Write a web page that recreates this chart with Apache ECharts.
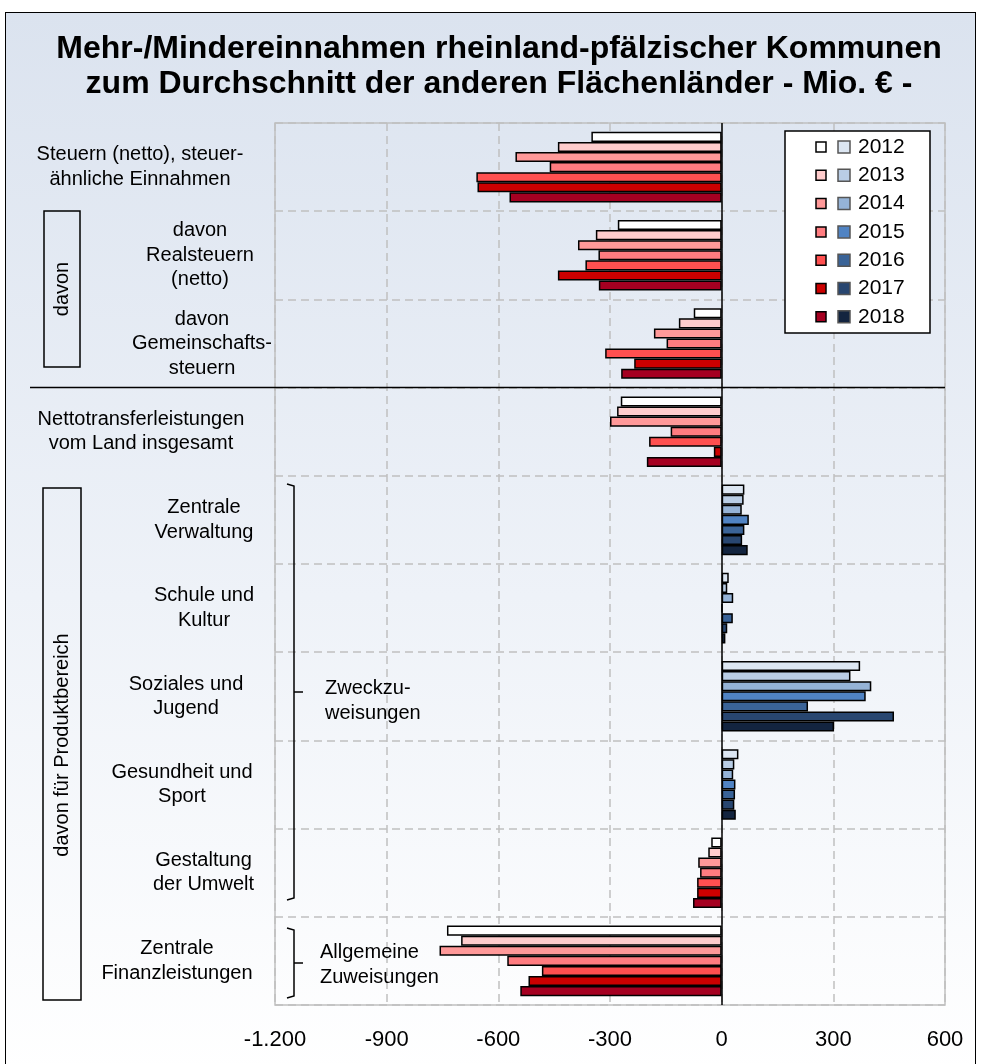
<!DOCTYPE html>
<html>
<head>
<meta charset="utf-8">
<script src="https://cdn.jsdelivr.net/npm/echarts@6/dist/echarts.min.js"></script>
<style>
html, body { margin: 0; padding: 0; width: 981px; height: 1064px; overflow: hidden; background: #fff; }
#frame { position: absolute; left: 5px; top: 12px; width: 971px; height: 1062px; border: 1.5px solid #000; box-sizing: border-box; background: linear-gradient(#dbe3ef, #eef2f8 55%, #ffffff); }
#chart { position: absolute; left: 0; top: 0; width: 981px; height: 1064px; }
</style>
</head>
<body>
<div id="frame"></div>
<div id="chart"></div>
<script>
// Kategorien (von oben nach unten)
var categories = [
  'Steuern (netto), steuer-\nähnliche Einnahmen',
  'davon\nRealsteuern\n(netto)',
  'davon\nGemeinschafts-\nsteuern',
  'Nettotransferleistungen\nvom Land insgesamt',
  'Zentrale\nVerwaltung',
  'Schule und\nKultur',
  'Soziales und\nJugend',
  'Gesundheit und\nSport',
  'Gestaltung\nder Umwelt',
  'Zentrale\nFinanzleistungen'
]
var years = ['2012', '2013', '2014', '2015', '2016', '2017', '2018']

// Mio. EUR je Jahr
var v2012 = [-350, -279, -75, -271, 61, 19, 372, 45, -28, -738]
var v2013 = [-440, -338, -115, -281, 59, 15, 346, 34, -36, -700]
var v2014 = [-554, -386, -182, -300, 54, 31, 402, 31, -63, -758]
var v2015 = [-462, -331, -148, -137, 73, 2, 387, 37, -58, -576]
var v2016 = [-659, -366, -313, -195, 61, 30, 232, 36, -66, -483]
var v2017 = [-656, -440, -235, -21, 55, 15, 463, 34, -66, -519]
var v2018 = [-570, -330, -270, -201, 70, 10, 302, 38, -77, -541]
var values = [v2012, v2013, v2014, v2015, v2016, v2017, v2018]

var xTicks = { min: -1200, max: 600, step: 300 }

// Farben: rot = Mindereinnahmen, blau = Mehreinnahmen
var reds = ['#ffffff', '#ffcccc', '#ff9999', '#ff7c80', '#ff5050', '#cc0000', '#a50021']
var blues = ['#dce6f2', '#b9cde5', '#95b3d7', '#5083c3', '#3a6397', '#284670', '#13243f']

var FONT = '"Liberation Sans", Arial, sans-serif'
// Breite der Beschriftungsblöcke (Text darin zentriert)
var labelWidths = [234, 114, 110, 232, 106, 106, 142, 150, 107, 160]

var chart = echarts.init(document.getElementById('chart'))

var rich = {}
labelWidths.forEach(function (w, i) {
  rich['c' + i] = { width: w, align: 'center', fontSize: 20, lineHeight: 24.5, color: '#000', fontFamily: FONT }
})

function deNumber (v) {
  var s = Math.abs(v).toString().replace(/\B(?=(\d{3})+(?!\d))/g, '.')
  return (v < 0 ? '-' : '') + s
}

var series = years.map(function (y, i) {
  var s = {
    type: 'bar',
    name: y,
    data: values[i],
    barGap: '0%',
    barCategoryGap: '20%',
    itemStyle: {
      color: function (p) { return p.value < 0 ? reds[i] : blues[i] },
      borderColor: '#000',
      borderWidth: 1.5
    }
  }
  if (i === 0) {
    // Nulllinie
    s.markLine = {
      silent: true,
      symbol: 'none',
      label: { show: false },
      lineStyle: { color: '#000', type: 'solid', width: 1.5 },
      data: [{ xAxis: 0 }],
      z: 10
    }
  }
  return s
})

var option = {
  animation: false,
  title: {
    text: 'Mehr-/Mindereinnahmen rheinland-pfälzischer Kommunen\nzum Durchschnitt der anderen Flächenländer - Mio. € -',
    left: 494,
    textAlign: 'center',
    top: 27,
    textStyle: { fontSize: 32, fontWeight: 'bold', color: '#000', fontFamily: FONT, lineHeight: 35 }
  },
  grid: {
    left: 275, right: 36, top: 123, bottom: 59,
    show: true, borderColor: '#c0c0c0', borderWidth: 1.5
  },
  xAxis: {
    type: 'value',
    min: xTicks.min,
    max: xTicks.max,
    interval: xTicks.step,
    axisLine: { show: false },
    axisTick: { show: false },
    splitLine: { show: true, lineStyle: { color: '#c0c0c0', type: [8, 5], width: 1.5 } },
    axisLabel: { fontSize: 22, color: '#000', fontFamily: FONT, margin: 24, formatter: deNumber }
  },
  yAxis: {
    type: 'category',
    inverse: true,
    data: categories,
    axisLine: { show: false },
    axisTick: { show: false },
    splitLine: { show: true, lineStyle: { color: '#c0c0c0', type: [8, 5], width: 1.5 } },
    axisLabel: {
      interval: 0,
      margin: 18,
      align: 'right',
      formatter: function (value, idx) {
        return value.split('\n').map(function (l) { return '{c' + idx + '|' + l + '}' }).join('\n')
      },
      rich: rich
    }
  },
  series: series
}

chart.setOption(option)

// Anmerkungen, Legende, Trennlinie
function annotations () {
  var yA = chart.convertToPixel({ yAxisIndex: 0 }, categories[2])
  var yB = chart.convertToPixel({ yAxisIndex: 0 }, categories[3])
  var sepY = (yA + yB) / 2
  var g = []
  g.push({ type: 'line', shape: { x1: 30, y1: sepY, x2: 945, y2: sepY }, style: { stroke: '#000', lineWidth: 1.5 }, z: 100 })

  // vertikale Kästen
  g.push({ type: 'rect', shape: { x: 44, y: 211, width: 36, height: 156 }, style: { fill: 'transparent', stroke: '#000', lineWidth: 1.5 } })
  g.push({ type: 'text', x: 62, y: 289, rotation: Math.PI / 2, style: { text: 'davon', fontSize: 20, fontFamily: FONT, fill: '#000', align: 'center', verticalAlign: 'middle' } })
  g.push({ type: 'rect', shape: { x: 43, y: 488, width: 38, height: 512 }, style: { fill: 'transparent', stroke: '#000', lineWidth: 1.5 } })
  g.push({ type: 'text', x: 62, y: 745, rotation: Math.PI / 2, style: { text: 'davon für Produktbereich', fontSize: 20, fontFamily: FONT, fill: '#000', align: 'center', verticalAlign: 'middle' } })

  // Klammern
  g.push({ type: 'polyline', shape: { points: [[287, 484], [294, 486], [294, 898], [287, 900]] }, style: { stroke: '#000', lineWidth: 1.5, fill: null } })
  g.push({ type: 'line', shape: { x1: 294, y1: 692, x2: 303, y2: 692 }, style: { stroke: '#000', lineWidth: 1.5 } })
  g.push({ type: 'text', x: 325, y: 701, style: { text: 'Zweckzu-\nweisungen', fontSize: 20, lineHeight: 24.5, fontFamily: FONT, fill: '#000', align: 'left', verticalAlign: 'middle' } })
  g.push({ type: 'polyline', shape: { points: [[287, 928], [294, 930], [294, 996], [287, 998]] }, style: { stroke: '#000', lineWidth: 1.5, fill: null } })
  g.push({ type: 'line', shape: { x1: 294, y1: 963, x2: 303, y2: 963 }, style: { stroke: '#000', lineWidth: 1.5 } })
  g.push({ type: 'text', x: 320, y: 965, style: { text: 'Allgemeine\nZuweisungen', fontSize: 20, lineHeight: 24.5, fontFamily: FONT, fill: '#000', align: 'left', verticalAlign: 'middle' } })

  // Legende
  g.push({ type: 'rect', shape: { x: 785, y: 131, width: 145, height: 202 }, style: { fill: '#fff', stroke: '#000', lineWidth: 1.5 }, z: 100 })
  years.forEach(function (y, i) {
    var cy = 147 + i * 28.3
    g.push({ type: 'rect', shape: { x: 816, y: cy - 5, width: 10, height: 10 }, style: { fill: reds[i], stroke: '#000', lineWidth: 1.5 }, z: 101 })
    g.push({ type: 'rect', shape: { x: 838, y: cy - 6, width: 12, height: 12 }, style: { fill: blues[i], stroke: '#555', lineWidth: 1.5 }, z: 101 })
    g.push({ type: 'text', x: 858, y: cy, style: { text: y, fontSize: 21, fontFamily: FONT, fill: '#000', align: 'left', verticalAlign: 'middle' }, z: 101 })
  })
  chart.setOption({ graphic: g })
}
annotations()
</script>
</body>
</html>
